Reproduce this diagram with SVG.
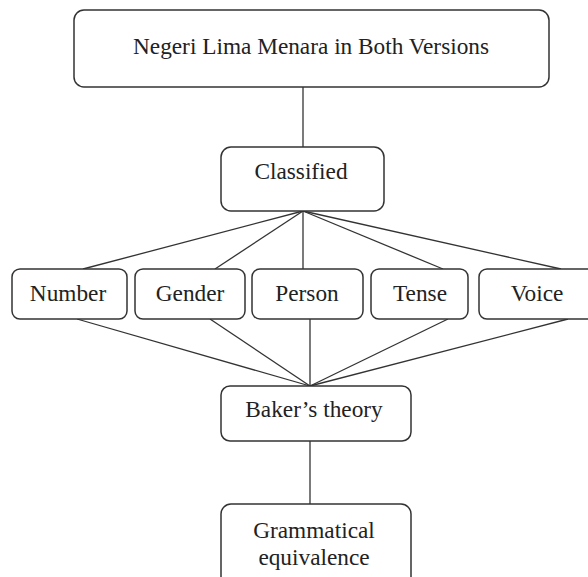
<svg xmlns="http://www.w3.org/2000/svg" width="588" height="577" viewBox="0 0 588 577">
<style>
.box{fill:#fff;stroke:#333;stroke-width:1.5}
.lbl{font-family:"Liberation Serif","Times New Roman",serif;font-size:23.3px;fill:#222;text-anchor:middle}
.con line{stroke:#333;stroke-width:1.3}
</style>
<rect width="588" height="577" fill="#fff"/>
<g class="con" id="connectors">
<line x1="303" y1="87" x2="303" y2="147"/>
<line x1="303" y1="211" x2="83" y2="269"/>
<line x1="303" y1="211" x2="215" y2="269"/>
<line x1="303" y1="211" x2="303" y2="269"/>
<line x1="303" y1="211" x2="443" y2="269"/>
<line x1="303" y1="211" x2="561" y2="269"/>
<line x1="77" y1="319" x2="310" y2="386"/>
<line x1="210" y1="319" x2="310" y2="386"/>
<line x1="310" y1="319" x2="310" y2="386"/>
<line x1="448" y1="319" x2="310" y2="386"/>
<line x1="568" y1="319" x2="310" y2="386"/>
<line x1="310" y1="441" x2="310" y2="504"/>
</g>
<g id="n-top"><rect class="box" x="74" y="10" width="475" height="77" rx="10"/><text class="lbl" x="311" y="54">Negeri Lima Menara in Both Versions</text></g>
<g id="n-classified"><rect class="box" x="221" y="147" width="163" height="64" rx="10"/><text class="lbl" x="301" y="179">Classified</text></g>
<g id="n-number"><rect class="box" x="12" y="269" width="115" height="50" rx="8"/><text class="lbl" x="68" y="301">Number</text></g>
<g id="n-gender"><rect class="box" x="135" y="269" width="110" height="50" rx="8"/><text class="lbl" x="190" y="301">Gender</text></g>
<g id="n-person"><rect class="box" x="252" y="269" width="111" height="50" rx="8"/><text class="lbl" x="307" y="301">Person</text></g>
<g id="n-tense"><rect class="box" x="371" y="269" width="97" height="50" rx="8"/><text class="lbl" x="420" y="301">Tense</text></g>
<g id="n-voice"><rect class="box" x="479" y="269" width="116" height="50" rx="8"/><text class="lbl" x="537" y="301">Voice</text></g>
<g id="n-baker"><rect class="box" x="221" y="386" width="190" height="55" rx="9"/><text class="lbl" x="314" y="417">Baker’s theory</text></g>
<g id="n-gram"><rect class="box" x="221" y="504" width="190" height="90" rx="10"/><text class="lbl" x="314" y="538">Grammatical</text><text class="lbl" x="314" y="565">equivalence</text></g>
</svg>
